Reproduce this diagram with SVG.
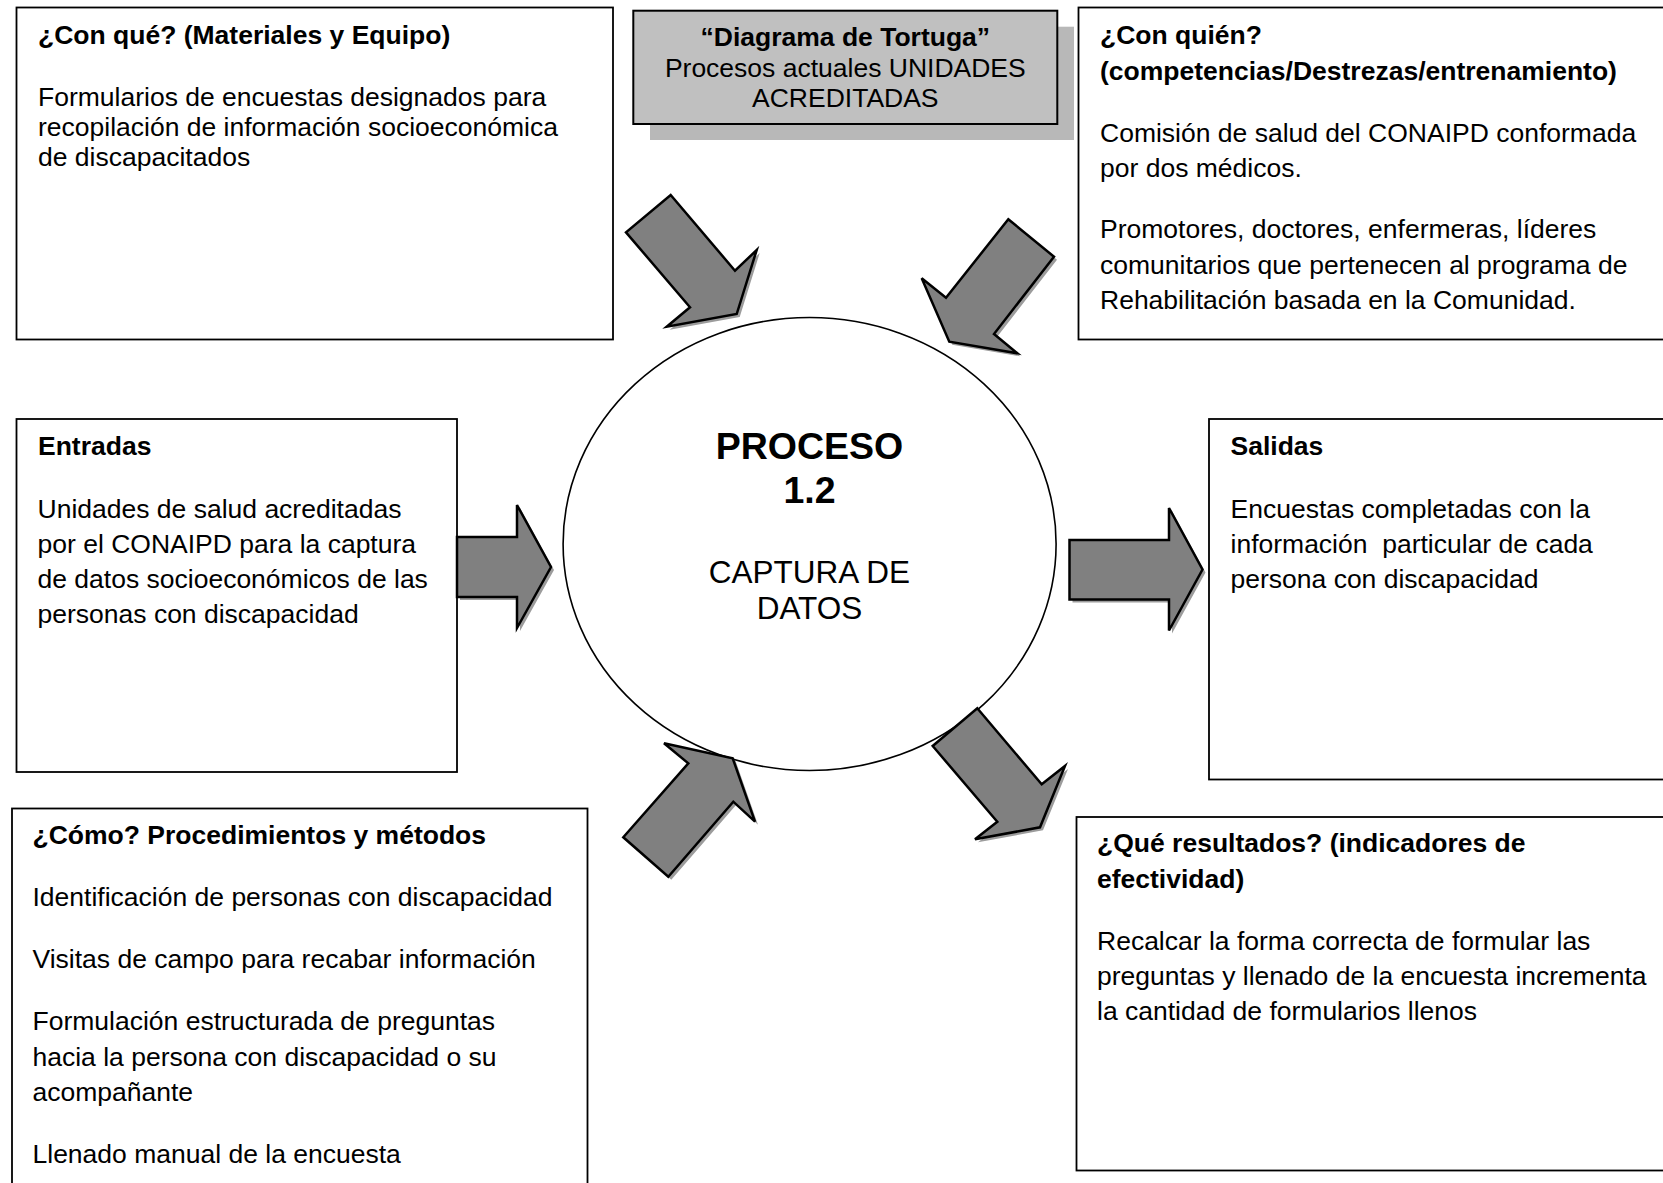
<svg xmlns="http://www.w3.org/2000/svg" xmlns:xlink="http://www.w3.org/1999/xlink" width="1663" height="1183" viewBox="0 0 1663 1183">
<style>
.box{fill:#fff;stroke:#000;stroke-width:1.8}
.t{font-family:"Liberation Sans",Arial,sans-serif;font-size:26.5px;fill:#000}
.b{font-weight:bold}
.arrow{fill:#808080;stroke:#000;stroke-width:2.5;stroke-linejoin:miter}
.shadow{fill:#9c9c9c;stroke:none}
.c{text-anchor:middle}
</style>
<defs>
<polygon id="a1" points="670.7,195 735,270.7 756.7,250 736.7,314 666.7,326.7 690,307.3 626,232.3"/>
<polygon id="a2" points="1008.3,219.3 1054,256.7 994,334 1017.3,353.3 949.3,341.7 921.7,278.3 946,297.7"/>
<polygon id="a3" points="457,537 517,537 517,505 551,567 517,628 517,597 457,597"/>
<polygon id="a4" points="1069.5,540 1169,540 1169,508 1202.5,569.5 1169,630.5 1169,599.5 1069.5,599.5"/>
<polygon id="a5" points="623.3,837.3 688.3,763.3 664,743.3 732.7,758.3 755,821.7 733.3,801.7 668.3,876.7"/>
<polygon id="a6" points="977.3,708.3 1041.7,784.3 1065,766 1040,827.3 975,839.3 997.3,821.7 932.7,746"/>
</defs>
<rect width="1663" height="1183" fill="#fff"/>

<g id="con-que">
<rect class="box" x="16.5" y="7.5" width="596.5" height="332"/>
<text class="t b" x="38" y="44">¿Con qué? (Materiales y Equipo)</text>
<text class="t" x="38" y="106">Formularios de encuestas designados para</text>
<text class="t" x="38" y="136">recopilación de información socioeconómica</text>
<text class="t" x="38" y="166">de discapacitados</text>
</g>

<g id="titulo">
<rect x="650" y="26.7" width="424" height="113.3" fill="#b8b8b8"/>
<rect x="633.3" y="10.7" width="424" height="113.3" fill="#c0c0c0" stroke="#000" stroke-width="2"/>
<text class="t b c" x="845.3" y="46">“Diagrama de Tortuga”</text>
<text class="t c" x="845.3" y="76.5">Procesos actuales UNIDADES</text>
<text class="t c" x="845.3" y="107">ACREDITADAS</text>
</g>

<g id="con-quien">
<rect class="box" x="1078.5" y="7.5" width="600" height="332"/>
<text class="t b" x="1100" y="44">¿Con quién?</text>
<text class="t b" x="1100" y="80">(competencias/Destrezas/entrenamiento)</text>
<text class="t" x="1100" y="142">Comisión de salud del CONAIPD conformada</text>
<text class="t" x="1100" y="177">por dos médicos.</text>
<text class="t" x="1100" y="238">Promotores, doctores, enfermeras, líderes</text>
<text class="t" x="1100" y="274">comunitarios que pertenecen al programa de</text>
<text class="t" x="1100" y="309">Rehabilitación basada en la Comunidad.</text>
</g>

<g id="entradas">
<rect class="box" x="16.5" y="419" width="440.5" height="353"/>
<text class="t b" x="38" y="455">Entradas</text>
<text class="t" x="37.5" y="517.5">Unidades de salud acreditadas</text>
<text class="t" x="37.5" y="552.5">por el CONAIPD para la captura</text>
<text class="t" x="37.5" y="587.5">de datos socioeconómicos de las</text>
<text class="t" x="37.5" y="622.5">personas con discapacidad</text>
</g>

<g id="proceso">
<ellipse cx="809.6" cy="544" rx="246.5" ry="226.5" fill="#fff" stroke="#000" stroke-width="1.6"/>
<text class="c b" x="809.5" y="459" style="font-family:'Liberation Sans',Arial,sans-serif;font-size:37.5px">PROCESO</text>
<text class="c b" x="809.5" y="503" style="font-family:'Liberation Sans',Arial,sans-serif;font-size:37.5px">1.2</text>
<text class="c" x="809.5" y="583" style="font-family:'Liberation Sans',Arial,sans-serif;font-size:31.5px">CAPTURA DE</text>
<text class="c" x="809.5" y="619" style="font-family:'Liberation Sans',Arial,sans-serif;font-size:31.5px">DATOS</text>
</g>

<g id="salidas">
<rect class="box" x="1209" y="419" width="500" height="360.5"/>
<text class="t b" x="1230.5" y="455">Salidas</text>
<text class="t" x="1230.5" y="517.5">Encuestas completadas con la</text>
<text class="t" x="1230.5" y="552.5" xml:space="preserve" style="white-space:pre">información  particular de cada</text>
<text class="t" x="1230.5" y="587.5">persona con discapacidad</text>
</g>

<g id="como">
<rect class="box" x="12" y="808.5" width="575.5" height="420"/>
<text class="t b" x="32.5" y="844">¿Cómo? Procedimientos y métodos</text>
<text class="t" x="32.5" y="906">Identificación de personas con discapacidad</text>
<text class="t" x="32.5" y="967.5">Visitas de campo para recabar información</text>
<text class="t" x="32.5" y="1029.5">Formulación estructurada de preguntas</text>
<text class="t" x="32.5" y="1065.5">hacia la persona con discapacidad o su</text>
<text class="t" x="32.5" y="1100.5">acompañante</text>
<text class="t" x="32.5" y="1163">Llenado manual de la encuesta</text>
</g>

<g id="que-resultados">
<rect class="box" x="1076.5" y="817" width="600" height="353.5"/>
<text class="t b" x="1097" y="852">¿Qué resultados? (indicadores de</text>
<text class="t b" x="1097" y="888">efectividad)</text>
<text class="t" x="1097" y="949.5">Recalcar la forma correcta de formular las</text>
<text class="t" x="1097" y="984.5">preguntas y llenado de la encuesta incrementa</text>
<text class="t" x="1097" y="1019.5">la cantidad de formularios llenos</text>
</g>

<g id="connectors">
<use href="#a1" xlink:href="#a1" class="shadow" transform="translate(3,3)"/>
<use href="#a1" xlink:href="#a1" class="arrow"/>
<use href="#a2" xlink:href="#a2" class="shadow" transform="translate(3,3)"/>
<use href="#a2" xlink:href="#a2" class="arrow"/>
<use href="#a3" xlink:href="#a3" class="shadow" transform="translate(3,3)"/>
<use href="#a3" xlink:href="#a3" class="arrow"/>
<use href="#a4" xlink:href="#a4" class="shadow" transform="translate(3,3)"/>
<use href="#a4" xlink:href="#a4" class="arrow"/>
<use href="#a5" xlink:href="#a5" class="shadow" transform="translate(3,3)"/>
<use href="#a5" xlink:href="#a5" class="arrow"/>
<use href="#a6" xlink:href="#a6" class="shadow" transform="translate(3,3)"/>
<use href="#a6" xlink:href="#a6" class="arrow"/>
</g>
</svg>
